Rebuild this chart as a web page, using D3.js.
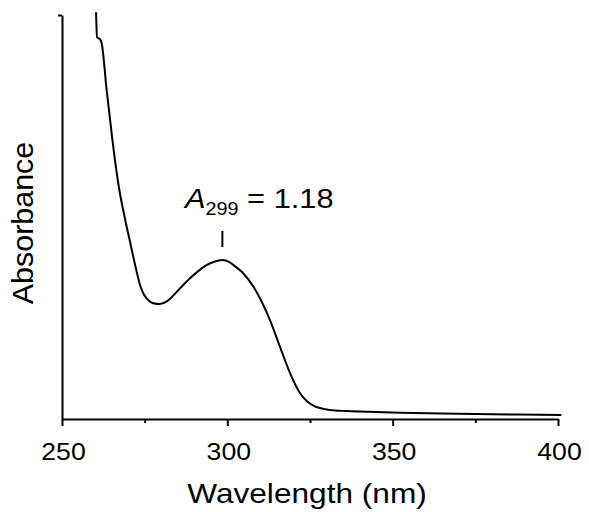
<!DOCTYPE html>
<html>
<head>
<meta charset="utf-8">
<script src="https://cdn.jsdelivr.net/npm/d3@7"></script>
<style>
  body { margin: 0; background: #fff; }
  text { font-family: "Liberation Sans", Arial, sans-serif; fill: #000; }
</style>
</head>
<body>
<svg></svg>
<script>
const svgWidth = 589
const svgHeight = 512
const margins = { top: 15, bottom: 93, left: 62, right: 31 }

// spectrum (nm, absorbance)
const wavelengths = [
  260.3, 260.6, 261.5, 262.0, 263.5, 265.0, 266.3, 267.5, 268.5, 269.5,
  270.6, 271.6, 272.6, 273.6, 274.6, 275.6, 276.6, 277.6, 279.6, 281.7,
  283.7, 286.0, 288.7, 291.2, 293.7, 296.0, 298.5, 300.5, 301.8, 304.8,
  307.9, 310.4, 312.9, 315.9, 319.0, 322.0, 324.0, 326.0, 328.5, 331.0,
  336.0, 342.1, 352.2, 365.0, 375.0, 388.0, 401.0
]
const absorbance = [
  3.02, 2.835, 2.82, 2.79, 2.443, 2.124, 1.871, 1.678, 1.552, 1.433,
  1.314, 1.199, 1.092, 0.995, 0.932, 0.895, 0.872, 0.860, 0.854, 0.873,
  0.918, 0.978, 1.045, 1.098, 1.142, 1.168, 1.18, 1.166, 1.144, 1.082,
  0.982, 0.871, 0.735, 0.537, 0.339, 0.191, 0.133, 0.099, 0.078, 0.067,
  0.059, 0.054, 0.047, 0.041, 0.037, 0.033, 0.030
]

const xDomain = [250, 400]
const yDomain = [0, 3]
const majorTicks = [250, 300, 350, 400]
const minorTicks = [275, 325, 375]
const peakWavelength = 298.5
const xTitle = "Wavelength (nm)"
const yTitle = "Absorbance"

const svg = d3.select("svg")
  .attr("width", svgWidth)
  .attr("height", svgHeight)

const xScale = d3.scaleLinear()
  .domain(xDomain)
  .range([margins.left, svgWidth - margins.right])
const yScale = d3.scaleLinear()
  .domain(yDomain)
  .range([svgHeight - margins.bottom, margins.top])

const baseY = svgHeight - margins.bottom

// minor ticks first, so the major axis draws on top
const minorAxis = svg.append("g")
  .attr("transform", `translate(0,${baseY})`)
  .call(d3.axisBottom(xScale).tickValues(minorTicks).tickSize(4).tickSizeOuter(0).tickFormat(""))
minorAxis.select(".domain").remove()

const xAxis = svg.append("g")
  .attr("transform", `translate(0,${baseY})`)
  .call(d3.axisBottom(xScale).tickValues(majorTicks).tickSize(7).tickSizeOuter(0).tickFormat(""))

// tick labels, a bit wider than plain Arial in the original
xAxis.selectAll(".tick")
  .append("text")
  .text((d) => d)
  .attr("transform", "translate(1,41) scale(1.11,1)")
  .attr("text-anchor", "middle")
  .attr("font-size", 24)
  .attr("font-family", "Liberation Sans, Arial, sans-serif")
  .attr("fill", "#000")

const yAxis = svg.append("g")
  .attr("transform", `translate(${margins.left},0)`)
  .call(d3.axisLeft(yScale).tickValues([yDomain[1]]).tickSize(4).tickSizeOuter(0).tickFormat(""))

svg.selectAll(".domain, .tick line")
  .attr("stroke", "#000")
  .attr("stroke-width", 2)

const line = d3.line()
  .x((d) => xScale(d))
  .y((d, i) => yScale(absorbance[i]))
  .curve(d3.curveMonotoneX)

svg.append("path")
  .attr("d", line(wavelengths))
  .attr("fill", "none")
  .attr("stroke", "#000")
  .attr("stroke-width", 2)

// peak marker and label
const peakX = xScale(peakWavelength)
svg.append("line")
  .attr("x1", peakX).attr("x2", peakX)
  .attr("y1", 231).attr("y2", 247)
  .attr("stroke", "#000")
  .attr("stroke-width", 2)

const label = svg.append("text")
  .attr("transform", "translate(185,208) scale(1.1,1)")
  .attr("font-size", 28)
label.append("tspan").attr("font-style", "italic").text("A")
label.append("tspan").attr("font-size", 18).attr("dy", 7).text("299")
label.append("tspan").attr("dy", -7).text(" = 1.18")

svg.append("text")
  .text(xTitle)
  .attr("transform", "translate(307,503) scale(1.13,1)")
  .attr("text-anchor", "middle")
  .attr("font-size", 28)

svg.append("text")
  .text(yTitle)
  .attr("transform", "translate(33,223) rotate(-90) scale(1.05,1)")
  .attr("text-anchor", "middle")
  .attr("font-size", 29)
</script>
</body>
</html>
